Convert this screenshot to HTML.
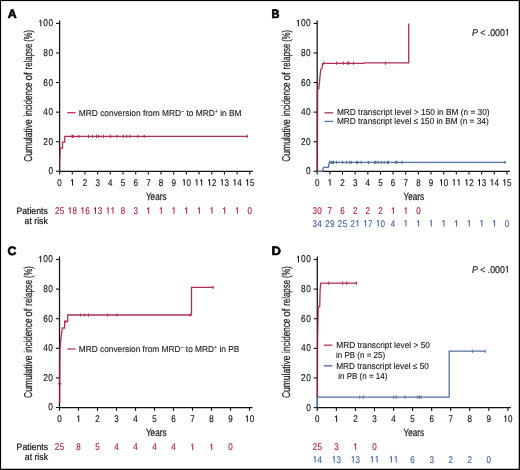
<!DOCTYPE html>
<html><head><meta charset="utf-8"><style>
html,body{margin:0;padding:0;background:#fff;width:520px;height:470px;overflow:hidden}
body{position:relative;font-family:"Liberation Sans", sans-serif}
svg text{font-family:"Liberation Sans", sans-serif}
svg{will-change:transform}
</style></head><body>
<svg width="520" height="470" viewBox="0 0 520 470" style="position:absolute;left:0;top:0" text-rendering="geometricPrecision" font-family='"Liberation Sans", sans-serif'>
<rect x="0" y="0" width="520" height="470" fill="#fff"/>
<text x="7.8" y="18.2" font-size="12.2" font-weight="bold" fill="#000" stroke="#000" stroke-width="0.6" textLength="8.9" lengthAdjust="spacingAndGlyphs">A</text>
<line x1="59.60" y1="20.40" x2="59.60" y2="171.90" stroke="#111" stroke-width="1.25"/>
<line x1="59.00" y1="171.30" x2="252.80" y2="171.30" stroke="#111" stroke-width="1.25"/>
<line x1="56.00" y1="171.30" x2="59.60" y2="171.30" stroke="#111" stroke-width="1.1"/>
<text x="50.75" y="174.25" font-size="9.9" fill="#151515" stroke="#151515" stroke-width="0.15" text-anchor="middle" textLength="4.62" lengthAdjust="spacingAndGlyphs">0</text>
<line x1="56.00" y1="141.72" x2="59.60" y2="141.72" stroke="#111" stroke-width="1.1"/>
<text x="45.65" y="144.67" font-size="9.9" fill="#151515" stroke="#151515" stroke-width="0.15" text-anchor="middle" textLength="4.62" lengthAdjust="spacingAndGlyphs">2</text>
<text x="50.75" y="144.67" font-size="9.9" fill="#151515" stroke="#151515" stroke-width="0.15" text-anchor="middle" textLength="4.62" lengthAdjust="spacingAndGlyphs">0</text>
<line x1="56.00" y1="112.14" x2="59.60" y2="112.14" stroke="#111" stroke-width="1.1"/>
<text x="45.65" y="115.09" font-size="9.9" fill="#151515" stroke="#151515" stroke-width="0.15" text-anchor="middle" textLength="4.62" lengthAdjust="spacingAndGlyphs">4</text>
<text x="50.75" y="115.09" font-size="9.9" fill="#151515" stroke="#151515" stroke-width="0.15" text-anchor="middle" textLength="4.62" lengthAdjust="spacingAndGlyphs">0</text>
<line x1="56.00" y1="82.56" x2="59.60" y2="82.56" stroke="#111" stroke-width="1.1"/>
<text x="45.65" y="85.51" font-size="9.9" fill="#151515" stroke="#151515" stroke-width="0.15" text-anchor="middle" textLength="4.62" lengthAdjust="spacingAndGlyphs">6</text>
<text x="50.75" y="85.51" font-size="9.9" fill="#151515" stroke="#151515" stroke-width="0.15" text-anchor="middle" textLength="4.62" lengthAdjust="spacingAndGlyphs">0</text>
<line x1="56.00" y1="52.98" x2="59.60" y2="52.98" stroke="#111" stroke-width="1.1"/>
<text x="45.65" y="55.93" font-size="9.9" fill="#151515" stroke="#151515" stroke-width="0.15" text-anchor="middle" textLength="4.62" lengthAdjust="spacingAndGlyphs">8</text>
<text x="50.75" y="55.93" font-size="9.9" fill="#151515" stroke="#151515" stroke-width="0.15" text-anchor="middle" textLength="4.62" lengthAdjust="spacingAndGlyphs">0</text>
<line x1="56.00" y1="23.40" x2="59.60" y2="23.40" stroke="#111" stroke-width="1.1"/>
<path d="M40.80 26.35V20.06L39.20 21.51" fill="none" stroke="#151515" stroke-width="1.0" stroke-linejoin="round"/>
<text x="45.65" y="26.35" font-size="9.9" fill="#151515" stroke="#151515" stroke-width="0.15" text-anchor="middle" textLength="4.62" lengthAdjust="spacingAndGlyphs">0</text>
<text x="50.75" y="26.35" font-size="9.9" fill="#151515" stroke="#151515" stroke-width="0.15" text-anchor="middle" textLength="4.62" lengthAdjust="spacingAndGlyphs">0</text>
<line x1="59.60" y1="171.30" x2="59.60" y2="174.60" stroke="#111" stroke-width="1.1"/>
<text x="59.60" y="185.60" font-size="9.8" fill="#151515" stroke="#151515" stroke-width="0.15" text-anchor="middle" textLength="4.47" lengthAdjust="spacingAndGlyphs">0</text>
<line x1="72.28" y1="171.30" x2="72.28" y2="174.60" stroke="#111" stroke-width="1.1"/>
<path d="M72.53 185.60V179.38L70.93 180.83" fill="none" stroke="#151515" stroke-width="1.0" stroke-linejoin="round"/>
<line x1="84.96" y1="171.30" x2="84.96" y2="174.60" stroke="#111" stroke-width="1.1"/>
<text x="84.96" y="185.60" font-size="9.8" fill="#151515" stroke="#151515" stroke-width="0.15" text-anchor="middle" textLength="4.47" lengthAdjust="spacingAndGlyphs">2</text>
<line x1="97.64" y1="171.30" x2="97.64" y2="174.60" stroke="#111" stroke-width="1.1"/>
<text x="97.64" y="185.60" font-size="9.8" fill="#151515" stroke="#151515" stroke-width="0.15" text-anchor="middle" textLength="4.47" lengthAdjust="spacingAndGlyphs">3</text>
<line x1="110.32" y1="171.30" x2="110.32" y2="174.60" stroke="#111" stroke-width="1.1"/>
<text x="110.32" y="185.60" font-size="9.8" fill="#151515" stroke="#151515" stroke-width="0.15" text-anchor="middle" textLength="4.47" lengthAdjust="spacingAndGlyphs">4</text>
<line x1="123.00" y1="171.30" x2="123.00" y2="174.60" stroke="#111" stroke-width="1.1"/>
<text x="123.00" y="185.60" font-size="9.8" fill="#151515" stroke="#151515" stroke-width="0.15" text-anchor="middle" textLength="4.47" lengthAdjust="spacingAndGlyphs">5</text>
<line x1="135.68" y1="171.30" x2="135.68" y2="174.60" stroke="#111" stroke-width="1.1"/>
<text x="135.68" y="185.60" font-size="9.8" fill="#151515" stroke="#151515" stroke-width="0.15" text-anchor="middle" textLength="4.47" lengthAdjust="spacingAndGlyphs">6</text>
<line x1="148.36" y1="171.30" x2="148.36" y2="174.60" stroke="#111" stroke-width="1.1"/>
<text x="148.36" y="185.60" font-size="9.8" fill="#151515" stroke="#151515" stroke-width="0.15" text-anchor="middle" textLength="4.47" lengthAdjust="spacingAndGlyphs">7</text>
<line x1="161.04" y1="171.30" x2="161.04" y2="174.60" stroke="#111" stroke-width="1.1"/>
<text x="161.04" y="185.60" font-size="9.8" fill="#151515" stroke="#151515" stroke-width="0.15" text-anchor="middle" textLength="4.47" lengthAdjust="spacingAndGlyphs">8</text>
<line x1="173.72" y1="171.30" x2="173.72" y2="174.60" stroke="#111" stroke-width="1.1"/>
<text x="173.72" y="185.60" font-size="9.8" fill="#151515" stroke="#151515" stroke-width="0.15" text-anchor="middle" textLength="4.47" lengthAdjust="spacingAndGlyphs">9</text>
<line x1="186.40" y1="171.30" x2="186.40" y2="174.60" stroke="#111" stroke-width="1.1"/>
<path d="M184.25 185.60V179.38L182.65 180.83" fill="none" stroke="#151515" stroke-width="1.0" stroke-linejoin="round"/>
<text x="188.80" y="185.60" font-size="9.8" fill="#151515" stroke="#151515" stroke-width="0.15" text-anchor="middle" textLength="4.47" lengthAdjust="spacingAndGlyphs">0</text>
<line x1="199.08" y1="171.30" x2="199.08" y2="174.60" stroke="#111" stroke-width="1.1"/>
<path d="M196.93 185.60V179.38L195.33 180.83" fill="none" stroke="#151515" stroke-width="1.0" stroke-linejoin="round"/>
<path d="M201.73 185.60V179.38L200.13 180.83" fill="none" stroke="#151515" stroke-width="1.0" stroke-linejoin="round"/>
<line x1="211.76" y1="171.30" x2="211.76" y2="174.60" stroke="#111" stroke-width="1.1"/>
<path d="M209.61 185.60V179.38L208.01 180.83" fill="none" stroke="#151515" stroke-width="1.0" stroke-linejoin="round"/>
<text x="214.16" y="185.60" font-size="9.8" fill="#151515" stroke="#151515" stroke-width="0.15" text-anchor="middle" textLength="4.47" lengthAdjust="spacingAndGlyphs">2</text>
<line x1="224.44" y1="171.30" x2="224.44" y2="174.60" stroke="#111" stroke-width="1.1"/>
<path d="M222.29 185.60V179.38L220.69 180.83" fill="none" stroke="#151515" stroke-width="1.0" stroke-linejoin="round"/>
<text x="226.84" y="185.60" font-size="9.8" fill="#151515" stroke="#151515" stroke-width="0.15" text-anchor="middle" textLength="4.47" lengthAdjust="spacingAndGlyphs">3</text>
<line x1="237.12" y1="171.30" x2="237.12" y2="174.60" stroke="#111" stroke-width="1.1"/>
<path d="M234.97 185.60V179.38L233.37 180.83" fill="none" stroke="#151515" stroke-width="1.0" stroke-linejoin="round"/>
<text x="239.52" y="185.60" font-size="9.8" fill="#151515" stroke="#151515" stroke-width="0.15" text-anchor="middle" textLength="4.47" lengthAdjust="spacingAndGlyphs">4</text>
<line x1="249.80" y1="171.30" x2="249.80" y2="174.60" stroke="#111" stroke-width="1.1"/>
<path d="M247.65 185.60V179.38L246.05 180.83" fill="none" stroke="#151515" stroke-width="1.0" stroke-linejoin="round"/>
<text x="252.20" y="185.60" font-size="9.8" fill="#151515" stroke="#151515" stroke-width="0.15" text-anchor="middle" textLength="4.47" lengthAdjust="spacingAndGlyphs">5</text>
<text transform="translate(32.30,161.80) rotate(-90)" x="0.00" y="0" font-size="11.4" fill="#1a1a1a" stroke="#1a1a1a" stroke-width="0.22" textLength="42.51" lengthAdjust="spacingAndGlyphs">Cumulative</text>
<text transform="translate(32.30,116.60) rotate(-90)" x="0.00" y="0" font-size="11.4" fill="#1a1a1a" stroke="#1a1a1a" stroke-width="0.22" textLength="34.24" lengthAdjust="spacingAndGlyphs">incidence</text>
<text transform="translate(32.30,80.50) rotate(-90)" x="0.00" y="0" font-size="11.4" fill="#1a1a1a" stroke="#1a1a1a" stroke-width="0.22" textLength="8.24" lengthAdjust="spacingAndGlyphs">of</text>
<text transform="translate(32.30,69.50) rotate(-90)" x="0.00" y="0" font-size="11.4" fill="#1a1a1a" stroke="#1a1a1a" stroke-width="0.22" textLength="25.90" lengthAdjust="spacingAndGlyphs">relapse</text>
<text transform="translate(32.30,41.70) rotate(-90)" x="0.00" y="0" font-size="11.4" fill="#1a1a1a" stroke="#1a1a1a" stroke-width="0.22" textLength="11.76" lengthAdjust="spacingAndGlyphs">(%)</text>
<text x="156.20" y="200.00" font-size="10.5" fill="#1a1a1a" stroke="#1a1a1a" stroke-width="0.25" text-anchor="middle" textLength="20.60" lengthAdjust="spacingAndGlyphs">Years</text>
<path d="M59.6 169.0 L59.7 160 L60.2 148.2 L62.5 148.2 L62.5 142.2 L64.7 142.2 L64.7 136.3 L247.7 136.3" fill="none" stroke="#b22e57" stroke-width="1.3" stroke-linejoin="miter"/>
<path d="M72.00 134.70V137.90 M73.00 134.70V137.90 M78.80 134.70V137.90 M88.60 134.70V137.90 M92.50 134.70V137.90 M96.50 134.70V137.90 M98.60 134.70V137.90 M103.40 134.70V137.90 M110.30 134.70V137.90 M117.00 134.70V137.90 M123.40 134.70V137.90 M126.70 134.70V137.90 M130.00 134.70V137.90 M137.80 134.70V137.90 M144.20 134.70V137.90 M247.20 134.70V137.90" stroke="#b22e57" stroke-width="1.05" fill="none"/>
<line x1="67.20" y1="112.70" x2="75.60" y2="112.70" stroke="#b22e57" stroke-width="1.25"/>
<text x="78.8" y="116.1" font-size="8.7" fill="#1a1a1a" stroke="#1a1a1a" stroke-width="0.12" textLength="162.8" lengthAdjust="spacingAndGlyphs">MRD conversion from MRD<tspan font-size="5.5" dy="-3.2">−</tspan><tspan dy="3.2"> to MRD</tspan><tspan font-size="5.5" dy="-3.2">+</tspan><tspan dy="3.2"> in BM</tspan></text>
<text x="47.80" y="213.70" font-size="9.5" fill="#111" stroke="#111" stroke-width="0.18" text-anchor="end" textLength="31.40" lengthAdjust="spacingAndGlyphs">Patients</text>
<text x="47.80" y="224.20" font-size="9.5" fill="#111" stroke="#111" stroke-width="0.18" text-anchor="end" textLength="23.20" lengthAdjust="spacingAndGlyphs">at risk</text>
<text x="57.20" y="213.70" font-size="9.8" fill="#aa1a43" stroke="#aa1a43" stroke-width="0.12" text-anchor="middle" textLength="4.47" lengthAdjust="spacingAndGlyphs">2</text>
<text x="62.00" y="213.70" font-size="9.8" fill="#aa1a43" stroke="#aa1a43" stroke-width="0.12" text-anchor="middle" textLength="4.47" lengthAdjust="spacingAndGlyphs">5</text>
<path d="M70.13 213.70V207.48L68.53 208.93" fill="none" stroke="#aa1a43" stroke-width="1.0" stroke-linejoin="round"/>
<text x="74.68" y="213.70" font-size="9.8" fill="#aa1a43" stroke="#aa1a43" stroke-width="0.12" text-anchor="middle" textLength="4.47" lengthAdjust="spacingAndGlyphs">8</text>
<path d="M82.81 213.70V207.48L81.21 208.93" fill="none" stroke="#aa1a43" stroke-width="1.0" stroke-linejoin="round"/>
<text x="87.36" y="213.70" font-size="9.8" fill="#aa1a43" stroke="#aa1a43" stroke-width="0.12" text-anchor="middle" textLength="4.47" lengthAdjust="spacingAndGlyphs">6</text>
<path d="M95.49 213.70V207.48L93.89 208.93" fill="none" stroke="#aa1a43" stroke-width="1.0" stroke-linejoin="round"/>
<text x="100.04" y="213.70" font-size="9.8" fill="#aa1a43" stroke="#aa1a43" stroke-width="0.12" text-anchor="middle" textLength="4.47" lengthAdjust="spacingAndGlyphs">3</text>
<path d="M108.17 213.70V207.48L106.57 208.93" fill="none" stroke="#aa1a43" stroke-width="1.0" stroke-linejoin="round"/>
<path d="M112.97 213.70V207.48L111.37 208.93" fill="none" stroke="#aa1a43" stroke-width="1.0" stroke-linejoin="round"/>
<text x="123.00" y="213.70" font-size="9.8" fill="#aa1a43" stroke="#aa1a43" stroke-width="0.12" text-anchor="middle" textLength="4.47" lengthAdjust="spacingAndGlyphs">8</text>
<text x="135.68" y="213.70" font-size="9.8" fill="#aa1a43" stroke="#aa1a43" stroke-width="0.12" text-anchor="middle" textLength="4.47" lengthAdjust="spacingAndGlyphs">3</text>
<path d="M148.61 213.70V207.48L147.01 208.93" fill="none" stroke="#aa1a43" stroke-width="1.0" stroke-linejoin="round"/>
<path d="M161.29 213.70V207.48L159.69 208.93" fill="none" stroke="#aa1a43" stroke-width="1.0" stroke-linejoin="round"/>
<path d="M173.97 213.70V207.48L172.37 208.93" fill="none" stroke="#aa1a43" stroke-width="1.0" stroke-linejoin="round"/>
<path d="M186.65 213.70V207.48L185.05 208.93" fill="none" stroke="#aa1a43" stroke-width="1.0" stroke-linejoin="round"/>
<path d="M199.33 213.70V207.48L197.73 208.93" fill="none" stroke="#aa1a43" stroke-width="1.0" stroke-linejoin="round"/>
<path d="M212.01 213.70V207.48L210.41 208.93" fill="none" stroke="#aa1a43" stroke-width="1.0" stroke-linejoin="round"/>
<path d="M224.69 213.70V207.48L223.09 208.93" fill="none" stroke="#aa1a43" stroke-width="1.0" stroke-linejoin="round"/>
<path d="M237.37 213.70V207.48L235.77 208.93" fill="none" stroke="#aa1a43" stroke-width="1.0" stroke-linejoin="round"/>
<text x="249.80" y="213.70" font-size="9.8" fill="#aa1a43" stroke="#aa1a43" stroke-width="0.12" text-anchor="middle" textLength="4.47" lengthAdjust="spacingAndGlyphs">0</text>
<text x="271.6" y="18.2" font-size="12.2" font-weight="bold" fill="#000" stroke="#000" stroke-width="0.6" textLength="8.0" lengthAdjust="spacingAndGlyphs">B</text>
<line x1="317.20" y1="20.40" x2="317.20" y2="171.90" stroke="#111" stroke-width="1.25"/>
<line x1="316.60" y1="171.30" x2="509.95" y2="171.30" stroke="#111" stroke-width="1.25"/>
<line x1="313.60" y1="171.30" x2="317.20" y2="171.30" stroke="#111" stroke-width="1.1"/>
<text x="308.35" y="174.25" font-size="9.9" fill="#151515" stroke="#151515" stroke-width="0.15" text-anchor="middle" textLength="4.62" lengthAdjust="spacingAndGlyphs">0</text>
<line x1="313.60" y1="141.72" x2="317.20" y2="141.72" stroke="#111" stroke-width="1.1"/>
<text x="303.25" y="144.67" font-size="9.9" fill="#151515" stroke="#151515" stroke-width="0.15" text-anchor="middle" textLength="4.62" lengthAdjust="spacingAndGlyphs">2</text>
<text x="308.35" y="144.67" font-size="9.9" fill="#151515" stroke="#151515" stroke-width="0.15" text-anchor="middle" textLength="4.62" lengthAdjust="spacingAndGlyphs">0</text>
<line x1="313.60" y1="112.14" x2="317.20" y2="112.14" stroke="#111" stroke-width="1.1"/>
<text x="303.25" y="115.09" font-size="9.9" fill="#151515" stroke="#151515" stroke-width="0.15" text-anchor="middle" textLength="4.62" lengthAdjust="spacingAndGlyphs">4</text>
<text x="308.35" y="115.09" font-size="9.9" fill="#151515" stroke="#151515" stroke-width="0.15" text-anchor="middle" textLength="4.62" lengthAdjust="spacingAndGlyphs">0</text>
<line x1="313.60" y1="82.56" x2="317.20" y2="82.56" stroke="#111" stroke-width="1.1"/>
<text x="303.25" y="85.51" font-size="9.9" fill="#151515" stroke="#151515" stroke-width="0.15" text-anchor="middle" textLength="4.62" lengthAdjust="spacingAndGlyphs">6</text>
<text x="308.35" y="85.51" font-size="9.9" fill="#151515" stroke="#151515" stroke-width="0.15" text-anchor="middle" textLength="4.62" lengthAdjust="spacingAndGlyphs">0</text>
<line x1="313.60" y1="52.98" x2="317.20" y2="52.98" stroke="#111" stroke-width="1.1"/>
<text x="303.25" y="55.93" font-size="9.9" fill="#151515" stroke="#151515" stroke-width="0.15" text-anchor="middle" textLength="4.62" lengthAdjust="spacingAndGlyphs">8</text>
<text x="308.35" y="55.93" font-size="9.9" fill="#151515" stroke="#151515" stroke-width="0.15" text-anchor="middle" textLength="4.62" lengthAdjust="spacingAndGlyphs">0</text>
<line x1="313.60" y1="23.40" x2="317.20" y2="23.40" stroke="#111" stroke-width="1.1"/>
<path d="M298.40 26.35V20.06L296.80 21.51" fill="none" stroke="#151515" stroke-width="1.0" stroke-linejoin="round"/>
<text x="303.25" y="26.35" font-size="9.9" fill="#151515" stroke="#151515" stroke-width="0.15" text-anchor="middle" textLength="4.62" lengthAdjust="spacingAndGlyphs">0</text>
<text x="308.35" y="26.35" font-size="9.9" fill="#151515" stroke="#151515" stroke-width="0.15" text-anchor="middle" textLength="4.62" lengthAdjust="spacingAndGlyphs">0</text>
<line x1="317.20" y1="171.30" x2="317.20" y2="174.60" stroke="#111" stroke-width="1.1"/>
<text x="317.20" y="185.60" font-size="9.8" fill="#151515" stroke="#151515" stroke-width="0.15" text-anchor="middle" textLength="4.47" lengthAdjust="spacingAndGlyphs">0</text>
<line x1="329.85" y1="171.30" x2="329.85" y2="174.60" stroke="#111" stroke-width="1.1"/>
<path d="M330.10 185.60V179.38L328.50 180.83" fill="none" stroke="#151515" stroke-width="1.0" stroke-linejoin="round"/>
<line x1="342.50" y1="171.30" x2="342.50" y2="174.60" stroke="#111" stroke-width="1.1"/>
<text x="342.50" y="185.60" font-size="9.8" fill="#151515" stroke="#151515" stroke-width="0.15" text-anchor="middle" textLength="4.47" lengthAdjust="spacingAndGlyphs">2</text>
<line x1="355.15" y1="171.30" x2="355.15" y2="174.60" stroke="#111" stroke-width="1.1"/>
<text x="355.15" y="185.60" font-size="9.8" fill="#151515" stroke="#151515" stroke-width="0.15" text-anchor="middle" textLength="4.47" lengthAdjust="spacingAndGlyphs">3</text>
<line x1="367.80" y1="171.30" x2="367.80" y2="174.60" stroke="#111" stroke-width="1.1"/>
<text x="367.80" y="185.60" font-size="9.8" fill="#151515" stroke="#151515" stroke-width="0.15" text-anchor="middle" textLength="4.47" lengthAdjust="spacingAndGlyphs">4</text>
<line x1="380.45" y1="171.30" x2="380.45" y2="174.60" stroke="#111" stroke-width="1.1"/>
<text x="380.45" y="185.60" font-size="9.8" fill="#151515" stroke="#151515" stroke-width="0.15" text-anchor="middle" textLength="4.47" lengthAdjust="spacingAndGlyphs">5</text>
<line x1="393.10" y1="171.30" x2="393.10" y2="174.60" stroke="#111" stroke-width="1.1"/>
<text x="393.10" y="185.60" font-size="9.8" fill="#151515" stroke="#151515" stroke-width="0.15" text-anchor="middle" textLength="4.47" lengthAdjust="spacingAndGlyphs">6</text>
<line x1="405.75" y1="171.30" x2="405.75" y2="174.60" stroke="#111" stroke-width="1.1"/>
<text x="405.75" y="185.60" font-size="9.8" fill="#151515" stroke="#151515" stroke-width="0.15" text-anchor="middle" textLength="4.47" lengthAdjust="spacingAndGlyphs">7</text>
<line x1="418.40" y1="171.30" x2="418.40" y2="174.60" stroke="#111" stroke-width="1.1"/>
<text x="418.40" y="185.60" font-size="9.8" fill="#151515" stroke="#151515" stroke-width="0.15" text-anchor="middle" textLength="4.47" lengthAdjust="spacingAndGlyphs">8</text>
<line x1="431.05" y1="171.30" x2="431.05" y2="174.60" stroke="#111" stroke-width="1.1"/>
<text x="431.05" y="185.60" font-size="9.8" fill="#151515" stroke="#151515" stroke-width="0.15" text-anchor="middle" textLength="4.47" lengthAdjust="spacingAndGlyphs">9</text>
<line x1="443.70" y1="171.30" x2="443.70" y2="174.60" stroke="#111" stroke-width="1.1"/>
<path d="M441.55 185.60V179.38L439.95 180.83" fill="none" stroke="#151515" stroke-width="1.0" stroke-linejoin="round"/>
<text x="446.10" y="185.60" font-size="9.8" fill="#151515" stroke="#151515" stroke-width="0.15" text-anchor="middle" textLength="4.47" lengthAdjust="spacingAndGlyphs">0</text>
<line x1="456.35" y1="171.30" x2="456.35" y2="174.60" stroke="#111" stroke-width="1.1"/>
<path d="M454.20 185.60V179.38L452.60 180.83" fill="none" stroke="#151515" stroke-width="1.0" stroke-linejoin="round"/>
<path d="M459.00 185.60V179.38L457.40 180.83" fill="none" stroke="#151515" stroke-width="1.0" stroke-linejoin="round"/>
<line x1="469.00" y1="171.30" x2="469.00" y2="174.60" stroke="#111" stroke-width="1.1"/>
<path d="M466.85 185.60V179.38L465.25 180.83" fill="none" stroke="#151515" stroke-width="1.0" stroke-linejoin="round"/>
<text x="471.40" y="185.60" font-size="9.8" fill="#151515" stroke="#151515" stroke-width="0.15" text-anchor="middle" textLength="4.47" lengthAdjust="spacingAndGlyphs">2</text>
<line x1="481.65" y1="171.30" x2="481.65" y2="174.60" stroke="#111" stroke-width="1.1"/>
<path d="M479.50 185.60V179.38L477.90 180.83" fill="none" stroke="#151515" stroke-width="1.0" stroke-linejoin="round"/>
<text x="484.05" y="185.60" font-size="9.8" fill="#151515" stroke="#151515" stroke-width="0.15" text-anchor="middle" textLength="4.47" lengthAdjust="spacingAndGlyphs">3</text>
<line x1="494.30" y1="171.30" x2="494.30" y2="174.60" stroke="#111" stroke-width="1.1"/>
<path d="M492.15 185.60V179.38L490.55 180.83" fill="none" stroke="#151515" stroke-width="1.0" stroke-linejoin="round"/>
<text x="496.70" y="185.60" font-size="9.8" fill="#151515" stroke="#151515" stroke-width="0.15" text-anchor="middle" textLength="4.47" lengthAdjust="spacingAndGlyphs">4</text>
<line x1="506.95" y1="171.30" x2="506.95" y2="174.60" stroke="#111" stroke-width="1.1"/>
<path d="M504.80 185.60V179.38L503.20 180.83" fill="none" stroke="#151515" stroke-width="1.0" stroke-linejoin="round"/>
<text x="509.35" y="185.60" font-size="9.8" fill="#151515" stroke="#151515" stroke-width="0.15" text-anchor="middle" textLength="4.47" lengthAdjust="spacingAndGlyphs">5</text>
<text transform="translate(289.90,161.80) rotate(-90)" x="0.00" y="0" font-size="11.4" fill="#1a1a1a" stroke="#1a1a1a" stroke-width="0.22" textLength="42.51" lengthAdjust="spacingAndGlyphs">Cumulative</text>
<text transform="translate(289.90,116.60) rotate(-90)" x="0.00" y="0" font-size="11.4" fill="#1a1a1a" stroke="#1a1a1a" stroke-width="0.22" textLength="34.24" lengthAdjust="spacingAndGlyphs">incidence</text>
<text transform="translate(289.90,80.50) rotate(-90)" x="0.00" y="0" font-size="11.4" fill="#1a1a1a" stroke="#1a1a1a" stroke-width="0.22" textLength="8.24" lengthAdjust="spacingAndGlyphs">of</text>
<text transform="translate(289.90,69.50) rotate(-90)" x="0.00" y="0" font-size="11.4" fill="#1a1a1a" stroke="#1a1a1a" stroke-width="0.22" textLength="25.90" lengthAdjust="spacingAndGlyphs">relapse</text>
<text transform="translate(289.90,41.70) rotate(-90)" x="0.00" y="0" font-size="11.4" fill="#1a1a1a" stroke="#1a1a1a" stroke-width="0.22" textLength="11.76" lengthAdjust="spacingAndGlyphs">(%)</text>
<text x="413.75" y="200.00" font-size="10.5" fill="#1a1a1a" stroke="#1a1a1a" stroke-width="0.25" text-anchor="middle" textLength="20.60" lengthAdjust="spacingAndGlyphs">Years</text>
<path d="M317.2 171.3 L322.4 171.3 L323.6 167.4 L328.3 167.4 L329.4 162.3 L505.4 162.3" fill="none" stroke="#54709f" stroke-width="1.3" stroke-linejoin="miter"/>
<path d="M329.60 160.70V163.90 M331.20 160.70V163.90 M332.40 160.70V163.90 M333.50 160.70V163.90 M336.50 160.70V163.90 M342.70 160.70V163.90 M346.50 160.70V163.90 M349.90 160.70V163.90 M351.20 160.70V163.90 M356.50 160.70V163.90 M357.80 160.70V163.90 M361.20 160.70V163.90 M368.40 160.70V163.90 M374.50 160.70V163.90 M375.80 160.70V163.90 M378.00 160.70V163.90 M381.20 160.70V163.90 M384.20 160.70V163.90 M387.30 160.70V163.90 M388.40 160.70V163.90 M395.80 160.70V163.90 M397.00 160.70V163.90 M401.90 160.70V163.90 M505.00 160.70V163.90" stroke="#54709f" stroke-width="1.05" fill="none"/>
<path d="M317.4 171.3 L317.6 89.5 L318.8 88.6 L319.4 83 L320.0 76 L320.8 69.3 L322 68.2 L322.6 63.6 L323.5 63.3 L364 63.3 L364.5 62.8 L408.7 62.8 L408.7 23.6" fill="none" stroke="#b22e57" stroke-width="1.3" stroke-linejoin="miter"/>
<path d="M323.80 61.60V64.80 M336.70 61.60V64.80 M343.50 61.60V64.80 M347.70 61.60V64.80 M349.00 61.60V64.80 M353.50 61.60V64.80 M385.50 61.60V64.80" stroke="#b22e57" stroke-width="1.05" fill="none"/>
<line x1="324.50" y1="112.80" x2="333.20" y2="112.80" stroke="#b22e57" stroke-width="1.25"/>
<line x1="324.50" y1="121.40" x2="333.20" y2="121.40" stroke="#54709f" stroke-width="1.25"/>
<text x="336.90" y="115.30" font-size="8.7" fill="#1a1a1a" stroke="#1a1a1a" stroke-width="0.12" textLength="152.70" lengthAdjust="spacingAndGlyphs">MRD transcript level &gt; 150 in BM (n = 30)</text>
<text x="336.90" y="123.60" font-size="8.7" fill="#1a1a1a" stroke="#1a1a1a" stroke-width="0.12" textLength="151.80" lengthAdjust="spacingAndGlyphs">MRD transcript level ≤ 150 in BM (n = 34)</text>
<text x="471.9" y="35.6" font-size="9.9" fill="#1a1a1a" stroke="#1a1a1a" stroke-width="0.2" textLength="33.0" lengthAdjust="spacingAndGlyphs"><tspan font-style="italic">P</tspan> &lt; .000</text>
<path d="M507.35 35.6V29.25L505.85 30.60" fill="none" stroke="#1a1a1a" stroke-width="1.0" stroke-linejoin="round"/>
<text x="314.80" y="213.80" font-size="9.8" fill="#aa1a43" stroke="#aa1a43" stroke-width="0.12" text-anchor="middle" textLength="4.47" lengthAdjust="spacingAndGlyphs">3</text>
<text x="319.60" y="213.80" font-size="9.8" fill="#aa1a43" stroke="#aa1a43" stroke-width="0.12" text-anchor="middle" textLength="4.47" lengthAdjust="spacingAndGlyphs">0</text>
<text x="329.85" y="213.80" font-size="9.8" fill="#aa1a43" stroke="#aa1a43" stroke-width="0.12" text-anchor="middle" textLength="4.47" lengthAdjust="spacingAndGlyphs">7</text>
<text x="342.50" y="213.80" font-size="9.8" fill="#aa1a43" stroke="#aa1a43" stroke-width="0.12" text-anchor="middle" textLength="4.47" lengthAdjust="spacingAndGlyphs">6</text>
<text x="355.15" y="213.80" font-size="9.8" fill="#aa1a43" stroke="#aa1a43" stroke-width="0.12" text-anchor="middle" textLength="4.47" lengthAdjust="spacingAndGlyphs">2</text>
<text x="367.80" y="213.80" font-size="9.8" fill="#aa1a43" stroke="#aa1a43" stroke-width="0.12" text-anchor="middle" textLength="4.47" lengthAdjust="spacingAndGlyphs">2</text>
<text x="380.45" y="213.80" font-size="9.8" fill="#aa1a43" stroke="#aa1a43" stroke-width="0.12" text-anchor="middle" textLength="4.47" lengthAdjust="spacingAndGlyphs">2</text>
<path d="M393.35 213.80V207.58L391.75 209.03" fill="none" stroke="#aa1a43" stroke-width="1.0" stroke-linejoin="round"/>
<path d="M406.00 213.80V207.58L404.40 209.03" fill="none" stroke="#aa1a43" stroke-width="1.0" stroke-linejoin="round"/>
<text x="418.40" y="213.80" font-size="9.8" fill="#aa1a43" stroke="#aa1a43" stroke-width="0.12" text-anchor="middle" textLength="4.47" lengthAdjust="spacingAndGlyphs">0</text>
<text x="314.80" y="226.50" font-size="9.8" fill="#405f95" stroke="#405f95" stroke-width="0.12" text-anchor="middle" textLength="4.47" lengthAdjust="spacingAndGlyphs">3</text>
<text x="319.60" y="226.50" font-size="9.8" fill="#405f95" stroke="#405f95" stroke-width="0.12" text-anchor="middle" textLength="4.47" lengthAdjust="spacingAndGlyphs">4</text>
<text x="327.45" y="226.50" font-size="9.8" fill="#405f95" stroke="#405f95" stroke-width="0.12" text-anchor="middle" textLength="4.47" lengthAdjust="spacingAndGlyphs">2</text>
<text x="332.25" y="226.50" font-size="9.8" fill="#405f95" stroke="#405f95" stroke-width="0.12" text-anchor="middle" textLength="4.47" lengthAdjust="spacingAndGlyphs">9</text>
<text x="340.10" y="226.50" font-size="9.8" fill="#405f95" stroke="#405f95" stroke-width="0.12" text-anchor="middle" textLength="4.47" lengthAdjust="spacingAndGlyphs">2</text>
<text x="344.90" y="226.50" font-size="9.8" fill="#405f95" stroke="#405f95" stroke-width="0.12" text-anchor="middle" textLength="4.47" lengthAdjust="spacingAndGlyphs">5</text>
<text x="352.75" y="226.50" font-size="9.8" fill="#405f95" stroke="#405f95" stroke-width="0.12" text-anchor="middle" textLength="4.47" lengthAdjust="spacingAndGlyphs">2</text>
<path d="M357.80 226.50V220.28L356.20 221.73" fill="none" stroke="#405f95" stroke-width="1.0" stroke-linejoin="round"/>
<path d="M365.65 226.50V220.28L364.05 221.73" fill="none" stroke="#405f95" stroke-width="1.0" stroke-linejoin="round"/>
<text x="370.20" y="226.50" font-size="9.8" fill="#405f95" stroke="#405f95" stroke-width="0.12" text-anchor="middle" textLength="4.47" lengthAdjust="spacingAndGlyphs">7</text>
<path d="M378.30 226.50V220.28L376.70 221.73" fill="none" stroke="#405f95" stroke-width="1.0" stroke-linejoin="round"/>
<text x="382.85" y="226.50" font-size="9.8" fill="#405f95" stroke="#405f95" stroke-width="0.12" text-anchor="middle" textLength="4.47" lengthAdjust="spacingAndGlyphs">0</text>
<text x="393.10" y="226.50" font-size="9.8" fill="#405f95" stroke="#405f95" stroke-width="0.12" text-anchor="middle" textLength="4.47" lengthAdjust="spacingAndGlyphs">4</text>
<path d="M406.00 226.50V220.28L404.40 221.73" fill="none" stroke="#405f95" stroke-width="1.0" stroke-linejoin="round"/>
<path d="M418.65 226.50V220.28L417.05 221.73" fill="none" stroke="#405f95" stroke-width="1.0" stroke-linejoin="round"/>
<path d="M431.30 226.50V220.28L429.70 221.73" fill="none" stroke="#405f95" stroke-width="1.0" stroke-linejoin="round"/>
<path d="M443.95 226.50V220.28L442.35 221.73" fill="none" stroke="#405f95" stroke-width="1.0" stroke-linejoin="round"/>
<path d="M456.60 226.50V220.28L455.00 221.73" fill="none" stroke="#405f95" stroke-width="1.0" stroke-linejoin="round"/>
<path d="M469.25 226.50V220.28L467.65 221.73" fill="none" stroke="#405f95" stroke-width="1.0" stroke-linejoin="round"/>
<path d="M481.90 226.50V220.28L480.30 221.73" fill="none" stroke="#405f95" stroke-width="1.0" stroke-linejoin="round"/>
<path d="M494.55 226.50V220.28L492.95 221.73" fill="none" stroke="#405f95" stroke-width="1.0" stroke-linejoin="round"/>
<text x="506.95" y="226.50" font-size="9.8" fill="#405f95" stroke="#405f95" stroke-width="0.12" text-anchor="middle" textLength="4.47" lengthAdjust="spacingAndGlyphs">0</text>
<text x="7.6" y="254.9" font-size="12.2" font-weight="bold" fill="#000" stroke="#000" stroke-width="0.6" textLength="8.9" lengthAdjust="spacingAndGlyphs">C</text>
<line x1="59.50" y1="256.50" x2="59.50" y2="408.10" stroke="#111" stroke-width="1.25"/>
<line x1="58.90" y1="407.50" x2="252.50" y2="407.50" stroke="#111" stroke-width="1.25"/>
<line x1="55.90" y1="407.50" x2="59.50" y2="407.50" stroke="#111" stroke-width="1.1"/>
<text x="50.65" y="410.45" font-size="9.9" fill="#151515" stroke="#151515" stroke-width="0.15" text-anchor="middle" textLength="4.62" lengthAdjust="spacingAndGlyphs">0</text>
<line x1="55.90" y1="377.90" x2="59.50" y2="377.90" stroke="#111" stroke-width="1.1"/>
<text x="45.55" y="380.85" font-size="9.9" fill="#151515" stroke="#151515" stroke-width="0.15" text-anchor="middle" textLength="4.62" lengthAdjust="spacingAndGlyphs">2</text>
<text x="50.65" y="380.85" font-size="9.9" fill="#151515" stroke="#151515" stroke-width="0.15" text-anchor="middle" textLength="4.62" lengthAdjust="spacingAndGlyphs">0</text>
<line x1="55.90" y1="348.30" x2="59.50" y2="348.30" stroke="#111" stroke-width="1.1"/>
<text x="45.55" y="351.25" font-size="9.9" fill="#151515" stroke="#151515" stroke-width="0.15" text-anchor="middle" textLength="4.62" lengthAdjust="spacingAndGlyphs">4</text>
<text x="50.65" y="351.25" font-size="9.9" fill="#151515" stroke="#151515" stroke-width="0.15" text-anchor="middle" textLength="4.62" lengthAdjust="spacingAndGlyphs">0</text>
<line x1="55.90" y1="318.70" x2="59.50" y2="318.70" stroke="#111" stroke-width="1.1"/>
<text x="45.55" y="321.65" font-size="9.9" fill="#151515" stroke="#151515" stroke-width="0.15" text-anchor="middle" textLength="4.62" lengthAdjust="spacingAndGlyphs">6</text>
<text x="50.65" y="321.65" font-size="9.9" fill="#151515" stroke="#151515" stroke-width="0.15" text-anchor="middle" textLength="4.62" lengthAdjust="spacingAndGlyphs">0</text>
<line x1="55.90" y1="289.10" x2="59.50" y2="289.10" stroke="#111" stroke-width="1.1"/>
<text x="45.55" y="292.05" font-size="9.9" fill="#151515" stroke="#151515" stroke-width="0.15" text-anchor="middle" textLength="4.62" lengthAdjust="spacingAndGlyphs">8</text>
<text x="50.65" y="292.05" font-size="9.9" fill="#151515" stroke="#151515" stroke-width="0.15" text-anchor="middle" textLength="4.62" lengthAdjust="spacingAndGlyphs">0</text>
<line x1="55.90" y1="259.50" x2="59.50" y2="259.50" stroke="#111" stroke-width="1.1"/>
<path d="M40.70 262.45V256.16L39.10 257.61" fill="none" stroke="#151515" stroke-width="1.0" stroke-linejoin="round"/>
<text x="45.55" y="262.45" font-size="9.9" fill="#151515" stroke="#151515" stroke-width="0.15" text-anchor="middle" textLength="4.62" lengthAdjust="spacingAndGlyphs">0</text>
<text x="50.65" y="262.45" font-size="9.9" fill="#151515" stroke="#151515" stroke-width="0.15" text-anchor="middle" textLength="4.62" lengthAdjust="spacingAndGlyphs">0</text>
<line x1="59.50" y1="407.50" x2="59.50" y2="410.80" stroke="#111" stroke-width="1.1"/>
<text x="59.50" y="421.80" font-size="9.8" fill="#151515" stroke="#151515" stroke-width="0.15" text-anchor="middle" textLength="4.47" lengthAdjust="spacingAndGlyphs">0</text>
<line x1="78.50" y1="407.50" x2="78.50" y2="410.80" stroke="#111" stroke-width="1.1"/>
<path d="M78.75 421.80V415.58L77.15 417.03" fill="none" stroke="#151515" stroke-width="1.0" stroke-linejoin="round"/>
<line x1="97.50" y1="407.50" x2="97.50" y2="410.80" stroke="#111" stroke-width="1.1"/>
<text x="97.50" y="421.80" font-size="9.8" fill="#151515" stroke="#151515" stroke-width="0.15" text-anchor="middle" textLength="4.47" lengthAdjust="spacingAndGlyphs">2</text>
<line x1="116.50" y1="407.50" x2="116.50" y2="410.80" stroke="#111" stroke-width="1.1"/>
<text x="116.50" y="421.80" font-size="9.8" fill="#151515" stroke="#151515" stroke-width="0.15" text-anchor="middle" textLength="4.47" lengthAdjust="spacingAndGlyphs">3</text>
<line x1="135.50" y1="407.50" x2="135.50" y2="410.80" stroke="#111" stroke-width="1.1"/>
<text x="135.50" y="421.80" font-size="9.8" fill="#151515" stroke="#151515" stroke-width="0.15" text-anchor="middle" textLength="4.47" lengthAdjust="spacingAndGlyphs">4</text>
<line x1="154.50" y1="407.50" x2="154.50" y2="410.80" stroke="#111" stroke-width="1.1"/>
<text x="154.50" y="421.80" font-size="9.8" fill="#151515" stroke="#151515" stroke-width="0.15" text-anchor="middle" textLength="4.47" lengthAdjust="spacingAndGlyphs">5</text>
<line x1="173.50" y1="407.50" x2="173.50" y2="410.80" stroke="#111" stroke-width="1.1"/>
<text x="173.50" y="421.80" font-size="9.8" fill="#151515" stroke="#151515" stroke-width="0.15" text-anchor="middle" textLength="4.47" lengthAdjust="spacingAndGlyphs">6</text>
<line x1="192.50" y1="407.50" x2="192.50" y2="410.80" stroke="#111" stroke-width="1.1"/>
<text x="192.50" y="421.80" font-size="9.8" fill="#151515" stroke="#151515" stroke-width="0.15" text-anchor="middle" textLength="4.47" lengthAdjust="spacingAndGlyphs">7</text>
<line x1="211.50" y1="407.50" x2="211.50" y2="410.80" stroke="#111" stroke-width="1.1"/>
<text x="211.50" y="421.80" font-size="9.8" fill="#151515" stroke="#151515" stroke-width="0.15" text-anchor="middle" textLength="4.47" lengthAdjust="spacingAndGlyphs">8</text>
<line x1="230.50" y1="407.50" x2="230.50" y2="410.80" stroke="#111" stroke-width="1.1"/>
<text x="230.50" y="421.80" font-size="9.8" fill="#151515" stroke="#151515" stroke-width="0.15" text-anchor="middle" textLength="4.47" lengthAdjust="spacingAndGlyphs">9</text>
<line x1="249.50" y1="407.50" x2="249.50" y2="410.80" stroke="#111" stroke-width="1.1"/>
<path d="M247.35 421.80V415.58L245.75 417.03" fill="none" stroke="#151515" stroke-width="1.0" stroke-linejoin="round"/>
<text x="251.90" y="421.80" font-size="9.8" fill="#151515" stroke="#151515" stroke-width="0.15" text-anchor="middle" textLength="4.47" lengthAdjust="spacingAndGlyphs">0</text>
<text transform="translate(32.20,398.00) rotate(-90)" x="0.00" y="0" font-size="11.4" fill="#1a1a1a" stroke="#1a1a1a" stroke-width="0.22" textLength="42.51" lengthAdjust="spacingAndGlyphs">Cumulative</text>
<text transform="translate(32.20,352.80) rotate(-90)" x="0.00" y="0" font-size="11.4" fill="#1a1a1a" stroke="#1a1a1a" stroke-width="0.22" textLength="34.24" lengthAdjust="spacingAndGlyphs">incidence</text>
<text transform="translate(32.20,316.70) rotate(-90)" x="0.00" y="0" font-size="11.4" fill="#1a1a1a" stroke="#1a1a1a" stroke-width="0.22" textLength="8.24" lengthAdjust="spacingAndGlyphs">of</text>
<text transform="translate(32.20,305.70) rotate(-90)" x="0.00" y="0" font-size="11.4" fill="#1a1a1a" stroke="#1a1a1a" stroke-width="0.22" textLength="25.90" lengthAdjust="spacingAndGlyphs">relapse</text>
<text transform="translate(32.20,277.90) rotate(-90)" x="0.00" y="0" font-size="11.4" fill="#1a1a1a" stroke="#1a1a1a" stroke-width="0.22" textLength="11.76" lengthAdjust="spacingAndGlyphs">(%)</text>
<text x="156.20" y="436.20" font-size="10.5" fill="#1a1a1a" stroke="#1a1a1a" stroke-width="0.25" text-anchor="middle" textLength="20.60" lengthAdjust="spacingAndGlyphs">Years</text>
<path d="M59.6 403 L59.9 352 L60.6 342 L61.3 335 L62.4 328 L64.6 328 L64.6 321.5 L67.7 321.5 L67.7 315 L191.5 315 L191.5 287.3 L213.5 287.3" fill="none" stroke="#b22e57" stroke-width="1.3" stroke-linejoin="miter"/>
<path d="M80.50 313.40V316.60 M84.60 313.40V316.60 M88.50 313.40V316.60 M107.70 313.40V316.60 M116.90 313.40V316.60 M190.00 313.40V316.60" stroke="#b22e57" stroke-width="1.05" fill="none"/>
<path d="M65.20 319.90V323.10" stroke="#b22e57" stroke-width="1.05" fill="none"/>
<path d="M213.00 285.70V288.90" stroke="#b22e57" stroke-width="1.05" fill="none"/>
<path d="M57.9 383.8H61.5" stroke="#b22e57" stroke-width="1"/>
<line x1="67.40" y1="349.00" x2="75.60" y2="349.00" stroke="#b22e57" stroke-width="1.25"/>
<text x="78.8" y="352.4" font-size="8.7" fill="#1a1a1a" stroke="#1a1a1a" stroke-width="0.12" textLength="160.5" lengthAdjust="spacingAndGlyphs">MRD conversion from MRD<tspan font-size="5.5" dy="-3.2">−</tspan><tspan dy="3.2"> to MRD</tspan><tspan font-size="5.5" dy="-3.2">+</tspan><tspan dy="3.2"> in PB</tspan></text>
<text x="48.00" y="450.10" font-size="9.5" fill="#111" stroke="#111" stroke-width="0.18" text-anchor="end" textLength="31.40" lengthAdjust="spacingAndGlyphs">Patients</text>
<text x="48.00" y="460.10" font-size="9.5" fill="#111" stroke="#111" stroke-width="0.18" text-anchor="end" textLength="23.20" lengthAdjust="spacingAndGlyphs">at risk</text>
<text x="57.10" y="450.10" font-size="9.8" fill="#aa1a43" stroke="#aa1a43" stroke-width="0.12" text-anchor="middle" textLength="4.47" lengthAdjust="spacingAndGlyphs">2</text>
<text x="61.90" y="450.10" font-size="9.8" fill="#aa1a43" stroke="#aa1a43" stroke-width="0.12" text-anchor="middle" textLength="4.47" lengthAdjust="spacingAndGlyphs">5</text>
<text x="78.50" y="450.10" font-size="9.8" fill="#aa1a43" stroke="#aa1a43" stroke-width="0.12" text-anchor="middle" textLength="4.47" lengthAdjust="spacingAndGlyphs">8</text>
<text x="97.50" y="450.10" font-size="9.8" fill="#aa1a43" stroke="#aa1a43" stroke-width="0.12" text-anchor="middle" textLength="4.47" lengthAdjust="spacingAndGlyphs">5</text>
<text x="116.50" y="450.10" font-size="9.8" fill="#aa1a43" stroke="#aa1a43" stroke-width="0.12" text-anchor="middle" textLength="4.47" lengthAdjust="spacingAndGlyphs">4</text>
<text x="135.50" y="450.10" font-size="9.8" fill="#aa1a43" stroke="#aa1a43" stroke-width="0.12" text-anchor="middle" textLength="4.47" lengthAdjust="spacingAndGlyphs">4</text>
<text x="154.50" y="450.10" font-size="9.8" fill="#aa1a43" stroke="#aa1a43" stroke-width="0.12" text-anchor="middle" textLength="4.47" lengthAdjust="spacingAndGlyphs">4</text>
<text x="173.50" y="450.10" font-size="9.8" fill="#aa1a43" stroke="#aa1a43" stroke-width="0.12" text-anchor="middle" textLength="4.47" lengthAdjust="spacingAndGlyphs">4</text>
<path d="M192.75 450.10V443.88L191.15 445.33" fill="none" stroke="#aa1a43" stroke-width="1.0" stroke-linejoin="round"/>
<path d="M211.75 450.10V443.88L210.15 445.33" fill="none" stroke="#aa1a43" stroke-width="1.0" stroke-linejoin="round"/>
<text x="230.50" y="450.10" font-size="9.8" fill="#aa1a43" stroke="#aa1a43" stroke-width="0.12" text-anchor="middle" textLength="4.47" lengthAdjust="spacingAndGlyphs">0</text>
<text x="271.6" y="254.7" font-size="12.2" font-weight="bold" fill="#000" stroke="#000" stroke-width="0.6" textLength="9.4" lengthAdjust="spacingAndGlyphs">D</text>
<line x1="317.30" y1="256.50" x2="317.30" y2="408.20" stroke="#111" stroke-width="1.25"/>
<line x1="316.70" y1="407.60" x2="510.90" y2="407.60" stroke="#111" stroke-width="1.25"/>
<line x1="313.70" y1="407.60" x2="317.30" y2="407.60" stroke="#111" stroke-width="1.1"/>
<text x="308.45" y="410.55" font-size="9.9" fill="#151515" stroke="#151515" stroke-width="0.15" text-anchor="middle" textLength="4.62" lengthAdjust="spacingAndGlyphs">0</text>
<line x1="313.70" y1="377.98" x2="317.30" y2="377.98" stroke="#111" stroke-width="1.1"/>
<text x="303.35" y="380.93" font-size="9.9" fill="#151515" stroke="#151515" stroke-width="0.15" text-anchor="middle" textLength="4.62" lengthAdjust="spacingAndGlyphs">2</text>
<text x="308.45" y="380.93" font-size="9.9" fill="#151515" stroke="#151515" stroke-width="0.15" text-anchor="middle" textLength="4.62" lengthAdjust="spacingAndGlyphs">0</text>
<line x1="313.70" y1="348.36" x2="317.30" y2="348.36" stroke="#111" stroke-width="1.1"/>
<text x="303.35" y="351.31" font-size="9.9" fill="#151515" stroke="#151515" stroke-width="0.15" text-anchor="middle" textLength="4.62" lengthAdjust="spacingAndGlyphs">4</text>
<text x="308.45" y="351.31" font-size="9.9" fill="#151515" stroke="#151515" stroke-width="0.15" text-anchor="middle" textLength="4.62" lengthAdjust="spacingAndGlyphs">0</text>
<line x1="313.70" y1="318.74" x2="317.30" y2="318.74" stroke="#111" stroke-width="1.1"/>
<text x="303.35" y="321.69" font-size="9.9" fill="#151515" stroke="#151515" stroke-width="0.15" text-anchor="middle" textLength="4.62" lengthAdjust="spacingAndGlyphs">6</text>
<text x="308.45" y="321.69" font-size="9.9" fill="#151515" stroke="#151515" stroke-width="0.15" text-anchor="middle" textLength="4.62" lengthAdjust="spacingAndGlyphs">0</text>
<line x1="313.70" y1="289.12" x2="317.30" y2="289.12" stroke="#111" stroke-width="1.1"/>
<text x="303.35" y="292.07" font-size="9.9" fill="#151515" stroke="#151515" stroke-width="0.15" text-anchor="middle" textLength="4.62" lengthAdjust="spacingAndGlyphs">8</text>
<text x="308.45" y="292.07" font-size="9.9" fill="#151515" stroke="#151515" stroke-width="0.15" text-anchor="middle" textLength="4.62" lengthAdjust="spacingAndGlyphs">0</text>
<line x1="313.70" y1="259.50" x2="317.30" y2="259.50" stroke="#111" stroke-width="1.1"/>
<path d="M298.50 262.45V256.16L296.90 257.61" fill="none" stroke="#151515" stroke-width="1.0" stroke-linejoin="round"/>
<text x="303.35" y="262.45" font-size="9.9" fill="#151515" stroke="#151515" stroke-width="0.15" text-anchor="middle" textLength="4.62" lengthAdjust="spacingAndGlyphs">0</text>
<text x="308.45" y="262.45" font-size="9.9" fill="#151515" stroke="#151515" stroke-width="0.15" text-anchor="middle" textLength="4.62" lengthAdjust="spacingAndGlyphs">0</text>
<line x1="317.30" y1="407.60" x2="317.30" y2="410.90" stroke="#111" stroke-width="1.1"/>
<text x="317.30" y="421.90" font-size="9.8" fill="#151515" stroke="#151515" stroke-width="0.15" text-anchor="middle" textLength="4.47" lengthAdjust="spacingAndGlyphs">0</text>
<line x1="336.36" y1="407.60" x2="336.36" y2="410.90" stroke="#111" stroke-width="1.1"/>
<path d="M336.61 421.90V415.68L335.01 417.13" fill="none" stroke="#151515" stroke-width="1.0" stroke-linejoin="round"/>
<line x1="355.42" y1="407.60" x2="355.42" y2="410.90" stroke="#111" stroke-width="1.1"/>
<text x="355.42" y="421.90" font-size="9.8" fill="#151515" stroke="#151515" stroke-width="0.15" text-anchor="middle" textLength="4.47" lengthAdjust="spacingAndGlyphs">2</text>
<line x1="374.48" y1="407.60" x2="374.48" y2="410.90" stroke="#111" stroke-width="1.1"/>
<text x="374.48" y="421.90" font-size="9.8" fill="#151515" stroke="#151515" stroke-width="0.15" text-anchor="middle" textLength="4.47" lengthAdjust="spacingAndGlyphs">3</text>
<line x1="393.54" y1="407.60" x2="393.54" y2="410.90" stroke="#111" stroke-width="1.1"/>
<text x="393.54" y="421.90" font-size="9.8" fill="#151515" stroke="#151515" stroke-width="0.15" text-anchor="middle" textLength="4.47" lengthAdjust="spacingAndGlyphs">4</text>
<line x1="412.60" y1="407.60" x2="412.60" y2="410.90" stroke="#111" stroke-width="1.1"/>
<text x="412.60" y="421.90" font-size="9.8" fill="#151515" stroke="#151515" stroke-width="0.15" text-anchor="middle" textLength="4.47" lengthAdjust="spacingAndGlyphs">5</text>
<line x1="431.66" y1="407.60" x2="431.66" y2="410.90" stroke="#111" stroke-width="1.1"/>
<text x="431.66" y="421.90" font-size="9.8" fill="#151515" stroke="#151515" stroke-width="0.15" text-anchor="middle" textLength="4.47" lengthAdjust="spacingAndGlyphs">6</text>
<line x1="450.72" y1="407.60" x2="450.72" y2="410.90" stroke="#111" stroke-width="1.1"/>
<text x="450.72" y="421.90" font-size="9.8" fill="#151515" stroke="#151515" stroke-width="0.15" text-anchor="middle" textLength="4.47" lengthAdjust="spacingAndGlyphs">7</text>
<line x1="469.78" y1="407.60" x2="469.78" y2="410.90" stroke="#111" stroke-width="1.1"/>
<text x="469.78" y="421.90" font-size="9.8" fill="#151515" stroke="#151515" stroke-width="0.15" text-anchor="middle" textLength="4.47" lengthAdjust="spacingAndGlyphs">8</text>
<line x1="488.84" y1="407.60" x2="488.84" y2="410.90" stroke="#111" stroke-width="1.1"/>
<text x="488.84" y="421.90" font-size="9.8" fill="#151515" stroke="#151515" stroke-width="0.15" text-anchor="middle" textLength="4.47" lengthAdjust="spacingAndGlyphs">9</text>
<line x1="507.90" y1="407.60" x2="507.90" y2="410.90" stroke="#111" stroke-width="1.1"/>
<path d="M505.75 421.90V415.68L504.15 417.13" fill="none" stroke="#151515" stroke-width="1.0" stroke-linejoin="round"/>
<text x="510.30" y="421.90" font-size="9.8" fill="#151515" stroke="#151515" stroke-width="0.15" text-anchor="middle" textLength="4.47" lengthAdjust="spacingAndGlyphs">0</text>
<text transform="translate(290.00,398.10) rotate(-90)" x="0.00" y="0" font-size="11.4" fill="#1a1a1a" stroke="#1a1a1a" stroke-width="0.22" textLength="42.51" lengthAdjust="spacingAndGlyphs">Cumulative</text>
<text transform="translate(290.00,352.90) rotate(-90)" x="0.00" y="0" font-size="11.4" fill="#1a1a1a" stroke="#1a1a1a" stroke-width="0.22" textLength="34.24" lengthAdjust="spacingAndGlyphs">incidence</text>
<text transform="translate(290.00,316.80) rotate(-90)" x="0.00" y="0" font-size="11.4" fill="#1a1a1a" stroke="#1a1a1a" stroke-width="0.22" textLength="8.24" lengthAdjust="spacingAndGlyphs">of</text>
<text transform="translate(290.00,305.80) rotate(-90)" x="0.00" y="0" font-size="11.4" fill="#1a1a1a" stroke="#1a1a1a" stroke-width="0.22" textLength="25.90" lengthAdjust="spacingAndGlyphs">relapse</text>
<text transform="translate(290.00,278.00) rotate(-90)" x="0.00" y="0" font-size="11.4" fill="#1a1a1a" stroke="#1a1a1a" stroke-width="0.22" textLength="11.76" lengthAdjust="spacingAndGlyphs">(%)</text>
<text x="413.75" y="436.30" font-size="10.5" fill="#1a1a1a" stroke="#1a1a1a" stroke-width="0.25" text-anchor="middle" textLength="20.60" lengthAdjust="spacingAndGlyphs">Years</text>
<path d="M317.3 407.6 L317.3 397.1 L449.2 397.1 L449.2 351.2 L485.6 351.2" fill="none" stroke="#54709f" stroke-width="1.3" stroke-linejoin="miter"/>
<path d="M359.70 395.50V398.70 M363.30 395.50V398.70 M393.70 395.50V398.70 M396.10 395.50V398.70 M405.00 395.50V398.70 M417.70 395.50V398.70 M419.40 395.50V398.70 M421.10 395.50V398.70" stroke="#54709f" stroke-width="1.05" fill="none"/>
<path d="M472.3 349.5V352.9 M485.2 349.5V352.9" stroke="#54709f" stroke-width="1"/>
<path d="M317.4 397.1 L317.6 340 L318.2 307.0 L319.7 306.8 L320.2 289 L320.8 283.2 L356.9 283.2" fill="none" stroke="#b22e57" stroke-width="1.3" stroke-linejoin="miter"/>
<path d="M328.70 281.60V284.80 M342.50 281.60V284.80 M346.60 281.60V284.80 M356.50 281.60V284.80" stroke="#b22e57" stroke-width="1.05" fill="none"/>
<line x1="324.00" y1="345.20" x2="332.30" y2="345.20" stroke="#b22e57" stroke-width="1.25"/>
<line x1="324.00" y1="365.80" x2="332.40" y2="365.80" stroke="#54709f" stroke-width="1.4"/>
<text x="336.20" y="348.20" font-size="8.7" fill="#1a1a1a" stroke="#1a1a1a" stroke-width="0.12" textLength="93.80" lengthAdjust="spacingAndGlyphs">MRD transcript level &gt; 50</text>
<text x="336.00" y="358.40" font-size="8.7" fill="#1a1a1a" stroke="#1a1a1a" stroke-width="0.12" textLength="49.20" lengthAdjust="spacingAndGlyphs">in PB (n = 25)</text>
<text x="336.20" y="368.60" font-size="8.7" fill="#1a1a1a" stroke="#1a1a1a" stroke-width="0.12" textLength="92.70" lengthAdjust="spacingAndGlyphs">MRD transcript level ≤ 50</text>
<text x="338.20" y="378.80" font-size="8.7" fill="#1a1a1a" stroke="#1a1a1a" stroke-width="0.12" textLength="49.20" lengthAdjust="spacingAndGlyphs">in PB (n = 14)</text>
<text x="471.9" y="272.5" font-size="9.9" fill="#1a1a1a" stroke="#1a1a1a" stroke-width="0.2" textLength="33.0" lengthAdjust="spacingAndGlyphs"><tspan font-style="italic">P</tspan> &lt; .000</text>
<path d="M507.35 272.5V266.15L505.85 267.50" fill="none" stroke="#1a1a1a" stroke-width="1.0" stroke-linejoin="round"/>
<text x="314.90" y="449.80" font-size="9.8" fill="#aa1a43" stroke="#aa1a43" stroke-width="0.12" text-anchor="middle" textLength="4.47" lengthAdjust="spacingAndGlyphs">2</text>
<text x="319.70" y="449.80" font-size="9.8" fill="#aa1a43" stroke="#aa1a43" stroke-width="0.12" text-anchor="middle" textLength="4.47" lengthAdjust="spacingAndGlyphs">5</text>
<text x="336.36" y="449.80" font-size="9.8" fill="#aa1a43" stroke="#aa1a43" stroke-width="0.12" text-anchor="middle" textLength="4.47" lengthAdjust="spacingAndGlyphs">3</text>
<path d="M355.67 449.80V443.58L354.07 445.03" fill="none" stroke="#aa1a43" stroke-width="1.0" stroke-linejoin="round"/>
<text x="374.48" y="449.80" font-size="9.8" fill="#aa1a43" stroke="#aa1a43" stroke-width="0.12" text-anchor="middle" textLength="4.47" lengthAdjust="spacingAndGlyphs">0</text>
<path d="M315.15 462.50V456.28L313.55 457.73" fill="none" stroke="#405f95" stroke-width="1.0" stroke-linejoin="round"/>
<text x="319.70" y="462.50" font-size="9.8" fill="#405f95" stroke="#405f95" stroke-width="0.12" text-anchor="middle" textLength="4.47" lengthAdjust="spacingAndGlyphs">4</text>
<path d="M334.21 462.50V456.28L332.61 457.73" fill="none" stroke="#405f95" stroke-width="1.0" stroke-linejoin="round"/>
<text x="338.76" y="462.50" font-size="9.8" fill="#405f95" stroke="#405f95" stroke-width="0.12" text-anchor="middle" textLength="4.47" lengthAdjust="spacingAndGlyphs">3</text>
<path d="M353.27 462.50V456.28L351.67 457.73" fill="none" stroke="#405f95" stroke-width="1.0" stroke-linejoin="round"/>
<text x="357.82" y="462.50" font-size="9.8" fill="#405f95" stroke="#405f95" stroke-width="0.12" text-anchor="middle" textLength="4.47" lengthAdjust="spacingAndGlyphs">3</text>
<path d="M372.33 462.50V456.28L370.73 457.73" fill="none" stroke="#405f95" stroke-width="1.0" stroke-linejoin="round"/>
<path d="M377.13 462.50V456.28L375.53 457.73" fill="none" stroke="#405f95" stroke-width="1.0" stroke-linejoin="round"/>
<path d="M391.39 462.50V456.28L389.79 457.73" fill="none" stroke="#405f95" stroke-width="1.0" stroke-linejoin="round"/>
<path d="M396.19 462.50V456.28L394.59 457.73" fill="none" stroke="#405f95" stroke-width="1.0" stroke-linejoin="round"/>
<text x="412.60" y="462.50" font-size="9.8" fill="#405f95" stroke="#405f95" stroke-width="0.12" text-anchor="middle" textLength="4.47" lengthAdjust="spacingAndGlyphs">6</text>
<text x="431.66" y="462.50" font-size="9.8" fill="#405f95" stroke="#405f95" stroke-width="0.12" text-anchor="middle" textLength="4.47" lengthAdjust="spacingAndGlyphs">3</text>
<text x="450.72" y="462.50" font-size="9.8" fill="#405f95" stroke="#405f95" stroke-width="0.12" text-anchor="middle" textLength="4.47" lengthAdjust="spacingAndGlyphs">2</text>
<text x="469.78" y="462.50" font-size="9.8" fill="#405f95" stroke="#405f95" stroke-width="0.12" text-anchor="middle" textLength="4.47" lengthAdjust="spacingAndGlyphs">2</text>
<text x="488.84" y="462.50" font-size="9.8" fill="#405f95" stroke="#405f95" stroke-width="0.12" text-anchor="middle" textLength="4.47" lengthAdjust="spacingAndGlyphs">0</text>
<line x1="59.6" y1="169" x2="59.6" y2="150" stroke="#000" stroke-opacity="0.3" stroke-width="1.1"/>
<line x1="317.3" y1="171.3" x2="317.3" y2="90" stroke="#000" stroke-opacity="0.3" stroke-width="1.1"/>
<line x1="59.7" y1="403" x2="59.7" y2="352" stroke="#000" stroke-opacity="0.3" stroke-width="1.1"/>
<line x1="317.4" y1="397" x2="317.4" y2="310" stroke="#000" stroke-opacity="0.3" stroke-width="1.1"/>
<rect x="0" y="0" width="520" height="1" fill="#000"/>
<rect x="0" y="0" width="1" height="470" fill="#000"/>
<rect x="518.8" y="0" width="1.2" height="470" fill="#000"/>
<rect x="0" y="468.8" width="520" height="1.2" fill="#000"/>
<path d="M1 1H518.8V468.8H1Z" fill="none" stroke="#000" stroke-opacity="0.10" stroke-width="1.6"/>
</svg>
</body></html>
